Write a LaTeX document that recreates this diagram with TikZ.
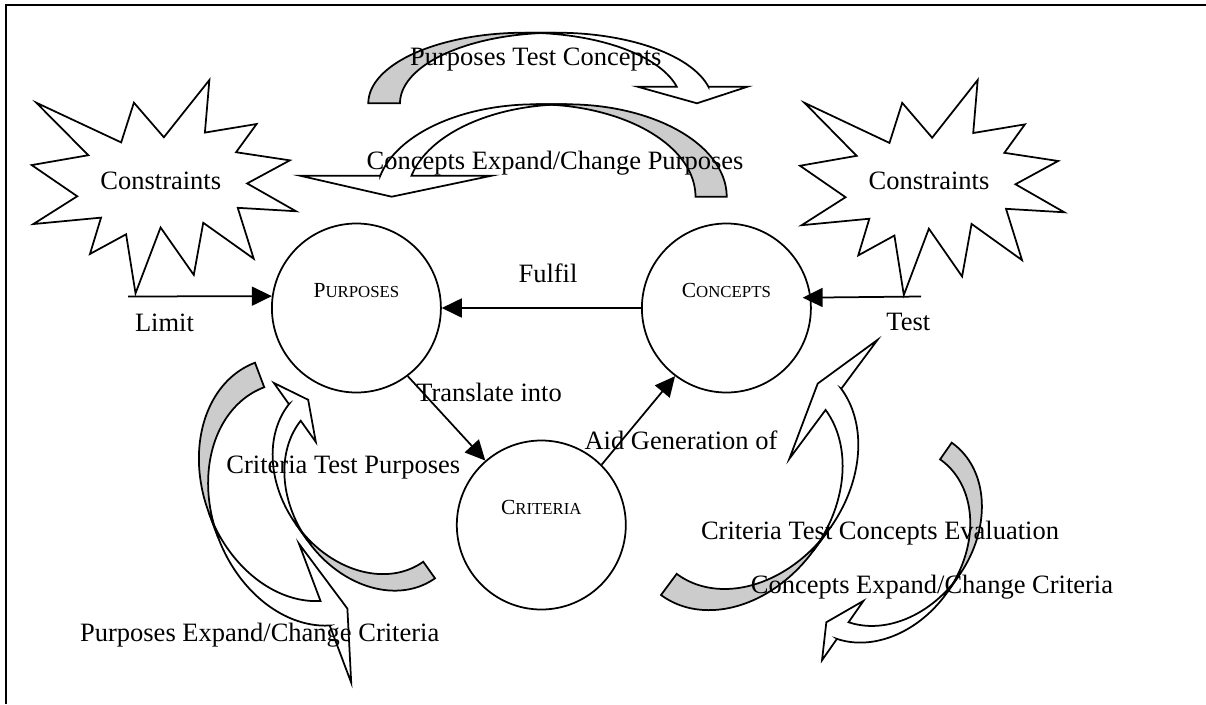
\documentclass[tikz,border=0pt]{standalone}
\usepackage{fontspec}
\setmainfont{Liberation Serif}
\usetikzlibrary{arrows.meta}

% small capitals built from two sizes
\newcommand{\scword}[2]{{\fontsize{21.5}{22}\selectfont #1}{\fontsize{16.8}{18}\selectfont #2}}

% twelve-point explosion outline, 216 x 216 units
\newcommand{\burstpath}{(108,58) -- (145.22,0) -- (141.55,53.25) -- (183.80,44.57) -- (167.02,73.15)
  -- (210.97,81.37) -- (176.07,104.75) -- (216,132.90) -- (168.37,129.42) -- (181.45,180.95)
  -- (140.20,144.57) -- (132.47,197.37) -- (105.32,149.35) -- (84.85,216) -- (77.15,156.27)
  -- (47.62,176.17) -- (56.67,139.37) -- (1.35,145.87) -- (37.22,117.75) -- (0,86.15)
  -- (46.27,76.17) -- (3.70,22.95) -- (73.12,63.20) -- (83.52,22.95) -- cycle}

% curved block arrow: #1 frame (origin = outer tail corner, x = tail direction, y = across band)
% #2 radius along x, #3 radius along y, #4 band width, #5 head length, #6 head width
\newcommand{\bandarrow}[6]{%
  \begin{scope}[#1]
    \pgfmathsetmacro\bte{180-acos(#5/#2)}
    \pgfmathsetmacro\byf{#3+#3*sin(\bte)}
    \pgfmathsetmacro\byg{\byf+#4}
    \pgfmathsetmacro\bdh{(#6-#4)/2}
    \pgfmathsetmacro\btip{2*#3+#4/2}
    \filldraw[band back] plot[domain=270:180,samples=50] ({#2*cos(\x)},{#3+#3*sin(\x)})
      -- plot[domain=180:270,samples=50] ({#2*cos(\x)},{#3+#4+#3*sin(\x)}) -- cycle;
    \filldraw[band front] plot[domain=180:\bte,samples=50] ({#2*cos(\x)},{#3+#3*sin(\x)})
      -- (-#5,\byf-\bdh) -- (0,\btip) -- (-#5,\byg+\bdh) -- (-#5,\byg)
      -- plot[domain=\bte:180,samples=50] ({#2*cos(\x)},{#3+#4+#3*sin(\x)}) -- cycle;
  \end{scope}}

\begin{document}
\begin{tikzpicture}[x=1pt,y=-1pt,
  outline/.style={line width=1.75pt,draw=black,line join=miter},
  band back/.style={outline,fill=black!20},
  band front/.style={outline,fill=white},
  ring/.style={circle,draw,line width=1.75pt,minimum size=169pt,inner sep=0pt,
    text height=4pt,text depth=26pt},
  conn/.style={line width=1.75pt,-{Triangle[length=20pt,width=19pt]}},
  lbl/.style={font=\fontsize{26.5}{30}\selectfont,inner sep=0pt,anchor=base}]
\useasboundingbox (0,0) rectangle (1206,704);

% page frame
\draw[outline] (1206,5.3) -- (6,5.3) -- (6,704);

% constraint bursts
\begin{scope}[shift={(31.7pt,-80pt)},xscale=1.2236,yscale=0.9875]
  \draw[outline,fill=white] \burstpath;
\end{scope}
\begin{scope}[shift={(800pt,-80pt)},xscale=1.2236,yscale=0.9954]
  \draw[outline,fill=white] \burstpath;
\end{scope}
\coordinate (limstart) at (128,296.5);
\coordinate (teststart) at (921,296.5);

% main circles
\node[ring] (purposes) at (356.4,308) {\scword{P}{URPOSES}};
\node[ring] (concepts) at (726.4,308) {\scword{C}{ONCEPTS}};
\node[ring] (criteria) at (541.3,525) {\scword{C}{RITERIA}};

% straight connectors
\draw[conn] (concepts.west) -- (purposes.east);
\draw[conn] (limstart) -- (purposes.172.3);
\draw[conn,shorten >=-8.5pt] (teststart) -- (concepts.7.7);
\draw[conn] (purposes.-53.6) -- (criteria.131.2);
\draw[conn] (criteria.45.2) -- (concepts.233.6);

% curved block arrows
\bandarrow{shift={(368.3pt,-103.3pt)},x={(0pt,-1pt)},y={(1pt,0pt)}}{70.6}{156.4}{31.7}{16.6}{110}
\bandarrow{shift={(726.7pt,-196.7pt)},x={(0pt,-1pt)},y={(-1pt,0pt)}}{92.4}{159.7}{31.2}{21}{191.7}
\bandarrow{shift={(255pt,-362.7pt)},x={(0.936pt,0.3517pt)},y={(0.3517pt,-0.936pt)}}{96}{124.8}{26.2}{22.5}{148.4}
\bandarrow{shift={(435pt,-578.3pt)},x={(0.8153pt,0.5793pt)},y={(-0.5793pt,0.8153pt)}}{82}{104.4}{20.3}{18.2}{72.4}
\bandarrow{shift={(661pt,-595pt)},x={(-0.8034pt,0.5955pt)},y={(0.5955pt,0.8034pt)}}{96}{125}{26.3}{22}{148}
\bandarrow{shift={(951.7pt,-442.7pt)},x={(-0.820pt,0.5726pt)},y={(-0.5726pt,-0.820pt)}}{82}{104.4}{20.3}{18.2}{72.4}

% labels
\node[lbl] (ptc) at (535.8,65) {Purposes Test Concepts};
\node[lbl] (cecp) at (555,169) {Concepts Expand/Change Purposes};
\node[lbl] (cons1) at (160.8,189.3) {Constraints};
\node[lbl] (cons2) at (929,189.3) {Constraints};
\node[lbl] (limit) at (164.5,331) {Limit};
\node[lbl] (test) at (908.3,330.7) {Test};
\node[lbl] (fulfil) at (548,282.7) {Fulfil};
\node[lbl] (translate) at (489,401.7) {Translate into};
\node[lbl] (aid) at (681,449.3) {Aid Generation of};
\node[lbl] (ctp) at (343.3,473.3) {Criteria Test Purposes};
\node[lbl] (pecc) at (259.7,641.7) {Purposes Expand/Change Criteria};
\node[lbl] (ctce) at (880,539.3) {Criteria Test Concepts Evaluation};
\node[lbl] (cecc) at (932,593.3) {Concepts Expand/Change Criteria};
\end{tikzpicture}
\end{document}
